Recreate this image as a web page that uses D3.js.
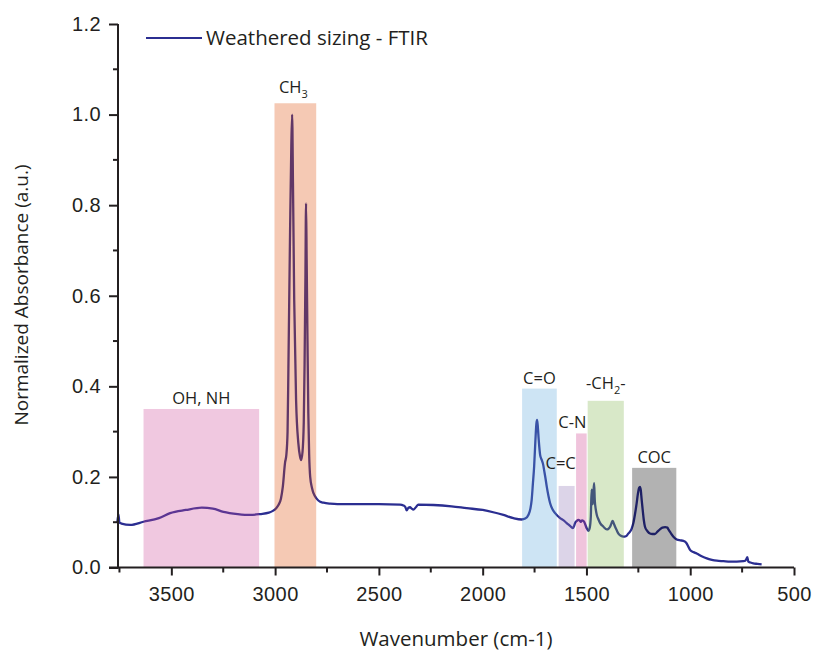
<!DOCTYPE html>
<html>
<head>
<meta charset="utf-8">
<script src="https://cdn.jsdelivr.net/npm/d3@7/dist/d3.min.js"></script>
<style>
  body { margin: 0; background: #fff; }
  svg { display: block; font-family: "Open Sans", "Noto Sans", sans-serif; }
  .axis path, .axis line { stroke: #231f20; stroke-width: 2; }
  .axis text { fill: #231f20; font-size: 20px; letter-spacing: 0.4px; }
</style>
</head>
<body>
<svg id="chart" width="813" height="652"></svg>
<script>
// spectrum (wavenumber cm-1 / normalized absorbance)
const wavenumber = [3760, 3755, 3750, 3740, 3698, 3634, 3560, 3506, 3430, 3353, 3300, 3249, 3180, 3120, 3072, 3030, 3011,
  2995, 2984, 2972, 2963, 2952, 2946, 2940, 2936, 2928, 2922, 2918, 2914, 2908, 2899, 2888, 2880, 2875, 2868, 2862,
  2858, 2854, 2851, 2848, 2844, 2840, 2836, 2831, 2822, 2815, 2800, 2783, 2767, 2735, 2700, 2600, 2500, 2398, 2382,
  2372, 2366, 2358, 2350, 2342, 2334, 2322, 2310, 2237, 2150, 2077, 2000, 1949, 1900, 1852, 1812, 1795, 1780, 1770,
  1764, 1758, 1752, 1746, 1741, 1738, 1735, 1730, 1723, 1715, 1708, 1704, 1697, 1691, 1683, 1675, 1663, 1651, 1627,
  1610, 1595, 1579, 1566, 1560, 1555, 1546, 1539, 1533, 1527, 1521, 1515, 1510, 1505, 1498, 1491, 1484, 1479, 1475,
  1472, 1469, 1466, 1463, 1460, 1455, 1450, 1442, 1434, 1418, 1402, 1393, 1386, 1379, 1374, 1369, 1362, 1354, 1346,
  1334, 1322, 1310, 1298, 1290, 1282, 1274, 1266, 1258, 1252, 1246, 1242, 1238, 1234, 1229, 1224, 1218, 1206, 1194,
  1182, 1170, 1158, 1146, 1134, 1121, 1110, 1105, 1095, 1081, 1065, 1048, 1033, 1025, 1017, 1008, 1001, 985, 969,
  945, 920, 896, 872, 840, 808, 776, 744, 735, 729, 725, 720, 710, 696, 676, 656];
const absorbance = [0.100, 0.117, 0.099, 0.097, 0.094, 0.101, 0.109, 0.120, 0.127, 0.132, 0.130, 0.123, 0.118, 0.116, 0.118, 0.121, 0.125,
  0.131, 0.138, 0.152, 0.178, 0.232, 0.248, 0.300, 0.440, 0.740, 0.930, 1.000, 0.850, 0.590, 0.370, 0.274, 0.245, 0.237, 0.255, 0.320,
  0.450, 0.640, 0.804, 0.680, 0.500, 0.340, 0.250, 0.200, 0.175, 0.164, 0.152, 0.145, 0.143, 0.141, 0.140, 0.140, 0.140, 0.139, 0.137,
  0.133, 0.126, 0.132, 0.133, 0.130, 0.128, 0.133, 0.139, 0.138, 0.135, 0.131, 0.127, 0.122, 0.116, 0.109, 0.106, 0.108, 0.116, 0.130,
  0.149, 0.185, 0.223, 0.280, 0.318, 0.326, 0.315, 0.282, 0.248, 0.237, 0.226, 0.215, 0.196, 0.178, 0.158, 0.142, 0.128, 0.120, 0.109,
  0.104, 0.098, 0.092, 0.087, 0.091, 0.098, 0.103, 0.105, 0.104, 0.101, 0.104, 0.103, 0.100, 0.094, 0.086, 0.081, 0.088, 0.112, 0.172,
  0.150, 0.140, 0.170, 0.186, 0.150, 0.128, 0.116, 0.106, 0.098, 0.090, 0.084, 0.086, 0.090, 0.098, 0.103, 0.098, 0.090, 0.082, 0.075,
  0.070, 0.068, 0.069, 0.075, 0.079, 0.086, 0.098, 0.118, 0.142, 0.163, 0.176, 0.178, 0.170, 0.150, 0.127, 0.106, 0.090, 0.080, 0.075,
  0.074, 0.074, 0.079, 0.084, 0.088, 0.089, 0.088, 0.084, 0.077, 0.068, 0.062, 0.060, 0.059, 0.057, 0.053, 0.045, 0.039, 0.034, 0.031,
  0.025, 0.020, 0.017, 0.015, 0.014, 0.013, 0.013, 0.014, 0.015, 0.019, 0.023, 0.013, 0.011, 0.009, 0.008, 0.007];

// assignment bands
const bandNames = ['OH, NH', 'CH3', 'C=O', 'C=C', 'C-N', '-CH2-', 'COC'];
const bandFrom = [3634, 3003, 1810, 1634, 1550, 1494, 1280];
const bandTo = [3077, 2802, 1643, 1557, 1499, 1320, 1067];
const bandTop = [0.35, 1.025, 0.395, 0.18, 0.296, 0.368, 0.22];

const xTicks = [3500, 3000, 2500, 2000, 1500, 1000, 500];
const xMinorTicks = [3750, 3250, 2750, 2250, 1750, 1250, 750];
const yTicks = [0, 0.2, 0.4, 0.6, 0.8, 1.0, 1.2];
const yMinorTicks = [0.1, 0.3, 0.5, 0.7, 0.9, 1.1];

// band look: colour seen on white is reached through 30% opacity over the line
const bandColors = ['#cd4898', '#de4b05', '#58a5da', '#8a70b2', '#cd3a8a', '#7db248', '#000000'];
const labelShift = { 'C=C': [-6, 12], 'C-N': [-9, 0], 'CH3': [-2, 5], '-CH2-': [0, 7] };

const svg = d3.select('#chart');
const x = d3.scaleLinear().domain([3757, 500]).range([118, 794]);
const y = d3.scaleLinear().domain([0, 1.2]).range([567.5, 24]);

const spectrum = wavenumber.map((w, i) => ({ w, a: absorbance[i] }));

const curve = d3.line()
  .x(d => x(d.w))
  .y(d => y(d.a))
  .curve(d3.curveMonotoneX);

svg.append('path')
  .datum(spectrum)
  .attr('fill', 'none')
  .attr('stroke', '#2b2e91')
  .attr('stroke-width', 2.3)
  .attr('stroke-linejoin', 'round')
  .attr('d', curve);

svg.selectAll('.band')
  .data(bandNames)
  .enter().append('rect')
  .attr('class', 'band')
  .attr('x', (d, i) => x(bandFrom[i]))
  .attr('width', (d, i) => x(bandTo[i]) - x(bandFrom[i]))
  .attr('y', (d, i) => y(bandTop[i]))
  .attr('height', (d, i) => y(0) - y(bandTop[i]))
  .attr('fill', (d, i) => bandColors[i])
  .attr('fill-opacity', 0.3);

const labels = svg.selectAll('.band-label')
  .data(bandNames)
  .enter().append('text')
  .attr('class', 'band-label')
  .attr('x', (d, i) => (x(bandFrom[i]) + x(bandTo[i])) / 2 + (labelShift[d] ? labelShift[d][0] : 0))
  .attr('y', (d, i) => y(bandTop[i]) - 5 - (labelShift[d] ? labelShift[d][1] : 0))
  .attr('text-anchor', 'middle')
  .attr('fill', '#231f20')
  .style('font-size', '16.5px');

labels.each(function (d) {
  const t = d3.select(this);
  const m = d.match(/^(-?CH)(\d)(-?)$/);
  if (!m) { t.text(d); return; }
  t.append('tspan').text(m[1]);
  t.append('tspan').attr('dy', 5).style('font-size', '11px').text(m[2]);
  if (m[3]) t.append('tspan').attr('dy', -5).text(m[3]);
});

// axes
const xAxis = svg.append('g')
  .attr('class', 'axis')
  .attr('transform', `translate(0,${y(0)})`)
  .call(d3.axisBottom(x).tickValues(xTicks).tickSize(8).tickPadding(11).tickFormat(d3.format('d')));
xAxis.select('.domain').attr('d', `M109,0H${x(500)}`);
xAxis.selectAll('.minor')
  .data(xMinorTicks)
  .enter().append('line')
  .attr('x1', d => x(d)).attr('x2', d => x(d))
  .attr('y1', 0).attr('y2', 5);

const yAxis = svg.append('g')
  .attr('class', 'axis')
  .attr('transform', `translate(${x(3757)},0)`)
  .call(d3.axisLeft(y).tickValues(yTicks).tickSize(9).tickPadding(8).tickFormat(d3.format('.1f')));
yAxis.select('.domain').attr('d', `M0,${y(0) + 1}V${y(1.2)}`);
yAxis.selectAll('.minor')
  .data(yMinorTicks)
  .enter().append('line')
  .attr('x1', -5).attr('x2', 0)
  .attr('y1', d => y(d)).attr('y2', d => y(d));

svg.append('text')
  .attr('x', 456).attr('y', 646)
  .attr('text-anchor', 'middle')
  .attr('fill', '#231f20')
  .style('font-size', '20.5px')
  .text('Wavenumber (cm-1)');

svg.append('text')
  .attr('transform', 'translate(28,295) rotate(-90)')
  .attr('text-anchor', 'middle')
  .attr('fill', '#231f20')
  .style('font-size', '19px')
  .text('Normalized Absorbance (a.u.)');

// legend
svg.append('line')
  .attr('x1', 146).attr('x2', 202)
  .attr('y1', 38).attr('y2', 38)
  .attr('stroke', '#2b2e91').attr('stroke-width', 2);
svg.append('text')
  .attr('x', 206).attr('y', 45)
  .attr('fill', '#231f20')
  .style('font-size', '20.5px')
  .text('Weathered sizing - FTIR');
</script>
</body>
</html>
